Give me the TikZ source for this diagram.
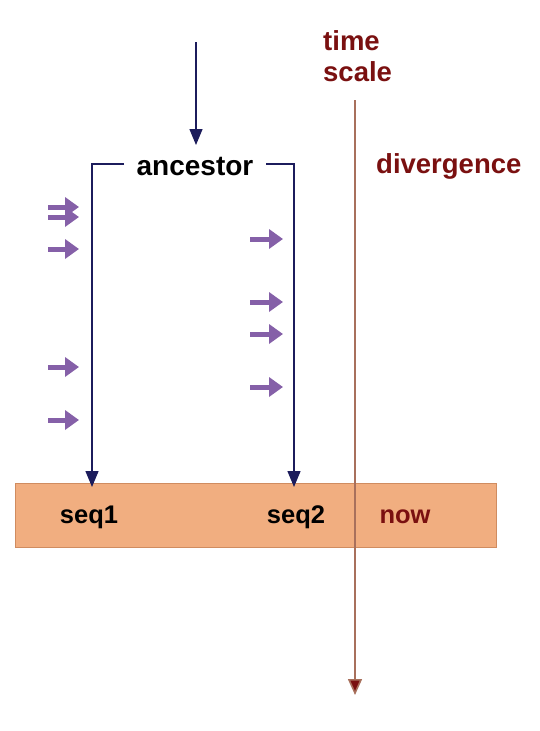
\documentclass[tikz,border=0pt]{standalone}
\usepackage{fontspec}
\setmainfont{Liberation Sans}
\usetikzlibrary{arrows.meta}
\definecolor{navy}{HTML}{1C1C5C}
\definecolor{purp}{HTML}{8560A8}
\definecolor{darkred}{HTML}{7A1010}
\definecolor{timeline}{HTML}{A8705C}
\definecolor{boxfill}{HTML}{F1AE80}
\definecolor{boxedge}{HTML}{D08C60}
\tikzset{
  lbl/.style={font=\fontsize{25.5}{28}\selectfont\bfseries, inner sep=0pt},
  biglbl/.style={font=\fontsize{27.5}{30}\selectfont\bfseries, inner sep=0pt},
  redlbl/.style={lbl, text=darkred},
  bigredlbl/.style={biglbl, text=darkred},
  navyarrow/.style={draw=navy, line width=1.4pt, -{Triangle[length=16pt,width=13pt]}},
  mut/.style={draw=purp, line width=5pt, -{Triangle[length=14pt,width=19pt]}},
}
\begin{document}
\begin{tikzpicture}[x=1pt,y=-1pt]
\useasboundingbox[fill=white] (0,0) rectangle (540,731);
% box
\node[draw=boxedge, fill=boxfill, line width=1.2pt, minimum width=481pt, minimum height=64pt, inner sep=0pt, anchor=north west] (box) at (15,483) {};
% labels
\node[biglbl, font=\fontsize{28}{30}\selectfont\bfseries] (anc) at (195,167) {ancestor};
\node[lbl] (s1) at (89,517) {seq1};
\node[lbl] (s2) at (296,517) {seq2};
\node[redlbl] (now) at (405,517) {now};
\node[bigredlbl, anchor=west, align=left] (time) at (323,56) {time\\[1pt]scale};
\node[bigredlbl, anchor=west] (div) at (376,166) {divergence};
% top arrow
\coordinate (topstart) at (196,42);
\draw[navyarrow] (topstart) -- (196,145);
% bracket
\coordinate (l1) at (124,164);
\coordinate (l2) at (92,164);
\coordinate (l3) at (92,487);
\coordinate (r1) at (266,164);
\coordinate (r2) at (294,164);
\coordinate (r3) at (294,487);
\draw[navyarrow] (l1) -- (l2) -- (l3);
\draw[navyarrow] (r1) -- (r2) -- (r3);
% time line
\coordinate (ts) at (355,100);
\coordinate (te) at (355,695);
\draw[draw=timeline, line width=1.6pt, -{Triangle[length=16pt,width=14pt,fill=darkred]}] (ts) -- (te);
% mutations left
\foreach \y/\n in {207/a,217/b,249/c,367/d,420/e}{
  \coordinate (ml\n) at (48,\y);
  \coordinate (mr\n) at (79,\y);
  \draw[mut] (ml\n) -- (mr\n);
}
\foreach \y/\n in {239/a,302/b,334/c,387/d}{
  \coordinate (nl\n) at (250,\y);
  \coordinate (nr\n) at (283,\y);
  \draw[mut] (nl\n) -- (nr\n);
}
\end{tikzpicture}
\end{document}
